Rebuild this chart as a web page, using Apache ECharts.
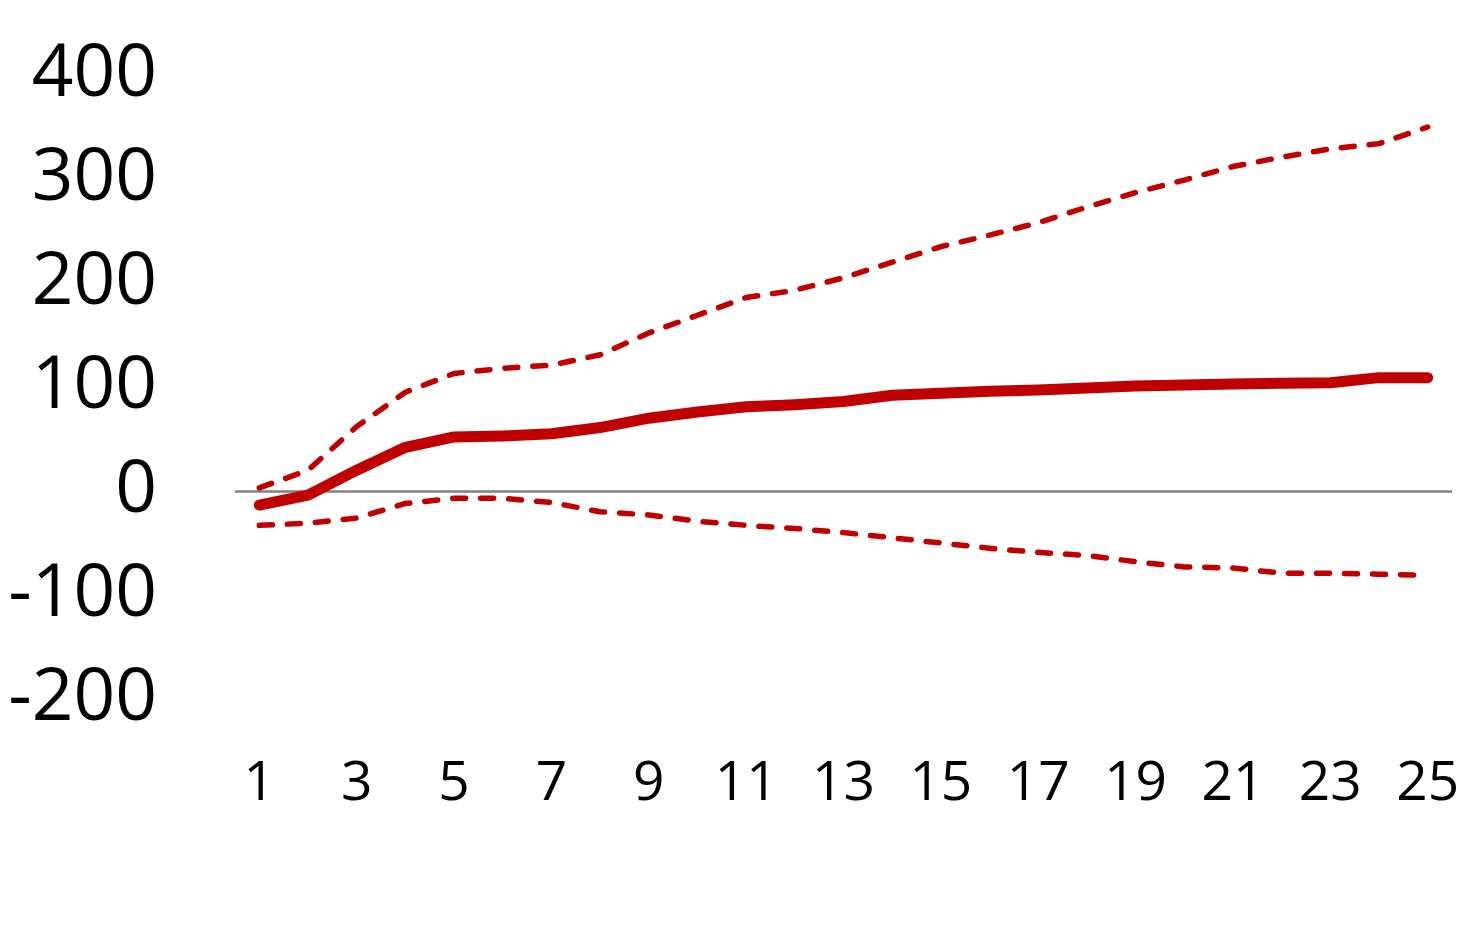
<!DOCTYPE html>
<html>
<head>
<meta charset="utf-8">
<script src="https://cdn.jsdelivr.net/npm/echarts@6/dist/echarts.min.js"></script>
<style>html,body{margin:0;padding:0;background:#fff}#c{width:1482px;height:948px}</style>
</head>
<body>
<div id="c"></div>
<script>
const categories = ['1','2','3','4','5','6','7','8','9','10','11','12','13','14','15','16','17','18','19','20','21','22','23','24','25'];
const central = [-13.5,-4,20,42,52,53,55,61,70,76,81,83,86,92,94,96,97,99,101,102,103,103.5,104,109,109];
const upper = [3,20,62,95,113,118,121,131,152,169,186,193,205,220,235,246,258,273,287,299,312,321,329,334,350];
const lower = [-33,-31,-26,-12,-7,-7,-11,-20,-23,-29,-33,-36,-40,-45,-50,-55,-59,-62,-68,-73,-74,-79,-79,-80,-81];
const yTicks = {min:-200, max:400, interval:100};

const red = '#C00000';
const chart = echarts.init(document.getElementById('c'));
chart.setOption({
  animation:false,
  backgroundColor:'#fff',
  grid:{left:235, right:30, top:75, bottom:249},
  xAxis:{
    type:'category', data:categories, boundaryGap:true,
    axisLine:{show:false, onZero:false}, axisTick:{show:false},
    axisLabel:{interval:1, margin:58, fontSize:55, color:'#000', fontFamily:'Open Sans'},
    splitLine:{show:false}
  },
  yAxis:{
    type:'value', min:yTicks.min, max:yTicks.max, interval:yTicks.interval,
    axisLine:{show:false}, axisTick:{show:false}, splitLine:{show:false},
    axisLabel:{margin:78, fontSize:73, color:'#000', fontFamily:'Open Sans'}
  },
  series:[
    {type:'line', data:upper, symbol:'none', z:2,
     lineStyle:{color:red, width:5.5, type:[13,15], cap:'round', join:'round'}},
    {type:'line', data:lower, symbol:'none', z:2,
     lineStyle:{color:red, width:5.5, type:[13,15], cap:'round', join:'round'}},
    {type:'line', data:central, symbol:'none', z:3,
     lineStyle:{color:red, width:11, cap:'round', join:'round'},
     markLine:{silent:true, symbol:'none', label:{show:false}, z:1,
       lineStyle:{color:'#808080', width:2.5, type:'solid'},
       data:[{yAxis:0}]}}
  ]
});
</script>
</body>
</html>
